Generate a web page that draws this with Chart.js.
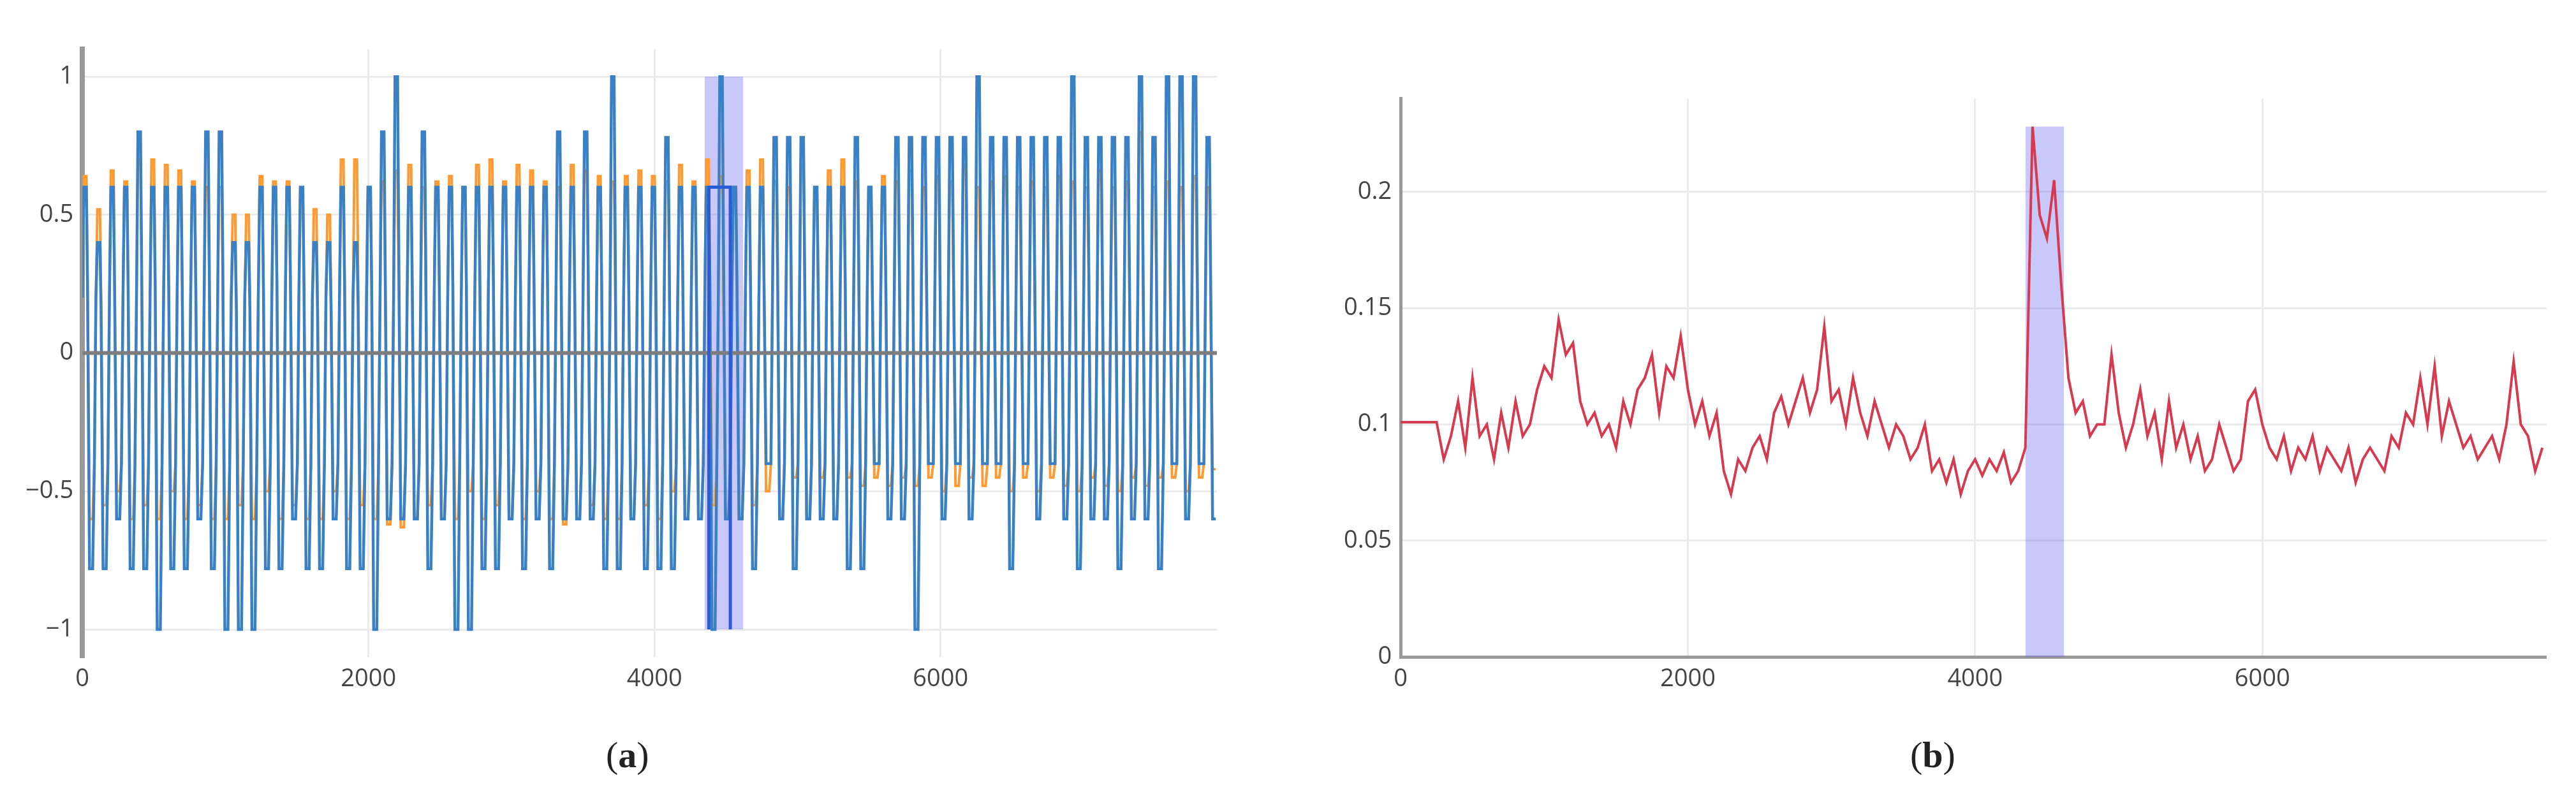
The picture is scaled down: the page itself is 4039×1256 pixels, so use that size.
<!DOCTYPE html>
<html>
<head>
<meta charset="utf-8">
<script src="https://cdn.jsdelivr.net/npm/chart.js@4"></script>
<style>
  body { margin: 0; background: #fff; width: 4039px; height: 1256px; position: relative; overflow: hidden; font-family: "DejaVu Sans", sans-serif; }
  .box { position: absolute; }
  .cap { position: absolute; font-family: "Liberation Serif", serif; font-size: 58px; color: #222; }
</style>
</head>
<body>
<div class="box" style="left:26px; top:40px; width:1882px; height:1060px;"><canvas id="chartA"></canvas></div>
<div class="box" style="left:2093px; top:118px; width:1900px; height:982px;"><canvas id="chartB"></canvas></div>
<div class="cap" style="left:950px; top:1150px;">(<b>a</b>)</div>
<div class="cap" style="left:2995px; top:1150px;">(<b>b</b>)</div>
<script>
/* DATA (a): peaks per cycle */
const cycleLen = 94.6;
const blueHi = [0.6,0.4,0.6,0.6,0.8,0.6,0.6,0.6,0.6,0.8,
  0.8,0.4,0.4,0.6,0.6,0.6,0.6,0.4,0.4,0.6,
  0.4,0.6,0.8,1.0,0.6,0.8,0.6,0.6,0.6,0.6,
  0.6,0.6,0.6,0.6,0.6,0.8,0.6,0.8,0.6,1.0,
  0.6,0.6,0.6,0.78,0.6,0.6,0.6,1.0,0.6,0.6,
  0.6,0.78,0.78,0.78,0.6,0.6,0.6,0.78,0.6,0.6,
  0.78,0.78,0.78,0.78,0.78,0.78,1.0,0.78,0.78,0.78,
  0.78,0.78,0.78,1.0,0.78,0.78,0.78,0.78,1.0,0.78,
  1.0,1.0,1.0,0.78];
const blueLo = [-0.78,-0.78,-0.6,-0.78,-0.78,-1,-0.78,-0.78,-0.6,-0.78,
  -1,-1,-1,-0.78,-0.78,-0.6,-0.78,-0.78,-0.6,-0.78,
  -0.78,-1,-0.6,-0.6,-0.6,-0.78,-0.6,-1,-1,-0.78,
  -0.78,-0.6,-0.78,-0.6,-0.78,-0.6,-0.6,-0.6,-0.78,-0.78,
  -0.6,-0.78,-0.78,-0.78,-0.6,-0.6,-1,-0.6,-0.6,-0.78,
  -0.4,-0.6,-0.78,-0.6,-0.6,-0.6,-0.78,-0.78,-0.4,-0.6,
  -0.6,-1,-0.4,-0.6,-0.4,-0.6,-0.4,-0.4,-0.78,-0.4,
  -0.6,-0.4,-0.6,-0.78,-0.6,-0.6,-0.78,-0.6,-0.6,-0.78,
  -0.4,-0.6,-0.4,-0.6];
const orangeHi = [0.64,0.52,0.66,0.62,0.7,0.7,0.68,0.66,0.62,0.6,
  0.6,0.5,0.5,0.64,0.62,0.62,0.58,0.52,0.5,0.7,
  0.7,0.6,0.62,0.66,0.68,0.6,0.62,0.64,0.6,0.68,
  0.7,0.62,0.68,0.66,0.62,0.6,0.68,0.66,0.64,0.62,
  0.64,0.66,0.64,0.62,0.68,0.62,0.7,0.64,0.6,0.66,
  0.7,0.62,0.6,0.68,0.6,0.66,0.7,0.62,0.6,0.64,
  0.62,0.66,0.6,0.64,0.62,0.68,0.6,0.62,0.64,0.6,
  0.62,0.6,0.64,0.62,0.6,0.66,0.6,0.62,0.8,0.6,
  0.62,0.6,0.64,0.6];
const orangeLo = [-0.6,-0.55,-0.5,-0.6,-0.55,-0.6,-0.5,-0.6,-0.55,-0.6,
  -0.6,-0.55,-0.6,-0.5,-0.6,-0.55,-0.6,-0.6,-0.5,-0.6,
  -0.55,-0.6,-0.62,-0.63,-0.6,-0.55,-0.6,-0.6,-0.5,-0.6,
  -0.55,-0.6,-0.6,-0.5,-0.6,-0.62,-0.6,-0.55,-0.6,-0.6,
  -0.6,-0.55,-0.6,-0.5,-0.6,-0.6,-0.55,-0.6,-0.6,-0.55,
  -0.5,-0.6,-0.45,-0.6,-0.45,-0.6,-0.45,-0.48,-0.45,-0.48,
  -0.45,-0.48,-0.45,-0.5,-0.48,-0.45,-0.48,-0.45,-0.5,-0.45,
  -0.5,-0.45,-0.48,-0.5,-0.45,-0.48,-0.5,-0.45,-0.48,-0.45,
  -0.45,-0.5,-0.45,-0.42];
const xEndA = 7932;
const bandA = [4350, 4620];
const boxA = [4380, 4530, -1, 0.6];
const ticksA_x = [0, 2000, 4000, 6000];
const ticksA_y = [-1, -0.5, 0, 0.5, 1];

/* DATA (b): value every 50 steps */
const stepB = 50;
const redVals = [
  .101,.101,.101,.101,.101,.101,.085,.095,.11,.09,
  .12,.095,.1,.085,.105,.09,.11,.095,.1,.115,
  .125,.12,.145,.13,.135,.11,.1,.105,.095,.1,
  .09,.11,.1,.115,.12,.13,.105,.125,.12,.138,
  .115,.1,.11,.095,.105,.08,.07,.085,.08,.09,
  .095,.085,.105,.112,.1,.11,.12,.105,.115,.142,
  .11,.115,.1,.12,.105,.095,.11,.1,.09,.1,
  .095,.085,.09,.1,.08,.085,.075,.085,.07,.08,
  .085,.078,.085,.08,.088,.075,.08,.09,.228,.19,
  .18,.205,.16,.12,.105,.11,.095,.1,.1,.13,
  .105,.09,.1,.115,.095,.105,.085,.11,.09,.1,
  .085,.095,.08,.085,.1,.09,.08,.085,.11,.115,
  .1,.09,.085,.095,.08,.09,.085,.095,.08,.09,
  .085,.08,.09,.075,.085,.09,.085,.08,.095,.09,
  .105,.1,.12,.1,.125,.095,.11,.1,.09,.095,
  .085,.09,.095,.085,.1,.127,.1,.095,.08,.09];
const bandB = [4350, 4620];
const bandB_top = 0.228;
const ticksB_x = [0, 2000, 4000, 6000];
const ticksB_y = [0, 0.05, 0.1, 0.15, 0.2];

/* build series */
function wave(hi, lo) {
  const pts = [];
  for (let i = 0; i < hi.length; i++) {
    const t = i * cycleLen;
    pts.push({x: t, y: 0.2}, {x: t + 10, y: hi[i]}, {x: t + 28, y: hi[i]},
      {x: t + 36, y: 0.4 * hi[i]}, {x: t + 50, y: lo[i]}, {x: t + 72, y: lo[i]}, {x: t + 84, y: -0.4});
  }
  return pts.filter(p => p.x <= xEndA);
}

const plain = v => String(v).replace("-", "\u2212");
const tickFont = { family: "Open Sans", size: 38 };

function fixTicks(list) {
  return axis => { axis.ticks = list.map(v => ({ value: v })); };
}

new Chart(document.getElementById("chartA"), {
  type: "line",
  data: {
    datasets: [
      { data: [{x: bandA[0], y: 1}, {x: bandA[1], y: 1}], borderWidth: 0, fill: {value: -1}, backgroundColor: "rgba(110,110,245,0.38)", pointRadius: 0, order: 5 },
      { data: wave(orangeHi, orangeLo), borderColor: "#ff9a33", borderWidth: 4, pointRadius: 0, order: 4 },
      { data: wave(blueHi, blueLo), borderColor: "#3a80c4", borderWidth: 4.5, pointRadius: 0, order: 3 },
      { data: [{x: 0, y: 0}, {x: xEndA, y: 0}], borderColor: "#7d7d7d", borderWidth: 6, pointRadius: 0, order: 2 },
      { data: [{x: boxA[0], y: boxA[2]}, {x: boxA[0], y: boxA[3]}, {x: boxA[1], y: boxA[3]}, {x: boxA[1], y: boxA[2]}], borderColor: "#2a5bd8", borderWidth: 5, pointRadius: 0, order: 1 }
    ]
  },
  options: {
    responsive: true, maintainAspectRatio: false, animation: false,
    plugins: { legend: { display: false }, tooltip: { enabled: false } },
    scales: {
      x: { type: "linear", min: 0, max: xEndA, afterBuildTicks: fixTicks(ticksA_x),
           grid: { color: "#ebebeb", lineWidth: 3, drawTicks: false }, border: { display: false },
           ticks: { font: tickFont, color: "#444", padding: 12, callback: v => plain(v) } },
      y: { min: -1.1, max: 1.1, afterBuildTicks: fixTicks(ticksA_y),
           grid: { color: "#ebebeb", lineWidth: 3, drawTicks: false }, border: { color: "#999", width: 8 },
           ticks: { font: tickFont, color: "#444", padding: 14, callback: v => plain(v) } }
    }
  }
});

new Chart(document.getElementById("chartB"), {
  type: "line",
  data: {
    datasets: [
      { data: [{x: bandB[0], y: bandB_top}, {x: bandB[1], y: bandB_top}], borderWidth: 0, fill: "origin", backgroundColor: "rgba(110,110,245,0.38)", pointRadius: 0, order: 2 },
      { data: redVals.map((v, i) => ({x: i * stepB, y: v})), borderColor: "#d63a4f", borderWidth: 4, pointRadius: 0, tension: 0, order: 1 }
    ]
  },
  options: {
    responsive: true, maintainAspectRatio: false, animation: false,
    plugins: { legend: { display: false }, tooltip: { enabled: false } },
    scales: {
      x: { type: "linear", min: 0, max: 7980, afterBuildTicks: fixTicks(ticksB_x),
           grid: { color: "#ebebeb", lineWidth: 3, drawTicks: false }, border: { color: "#999", width: 5 },
           ticks: { font: tickFont, color: "#444", padding: 12, callback: v => plain(v) } },
      y: { min: 0, max: 0.24, afterBuildTicks: fixTicks(ticksB_y),
           grid: { color: "#ebebeb", lineWidth: 3, drawTicks: false }, border: { color: "#999", width: 5 },
           ticks: { font: tickFont, color: "#444", padding: 14, callback: v => plain(v) } }
    }
  }
});
</script>
</body>
</html>
